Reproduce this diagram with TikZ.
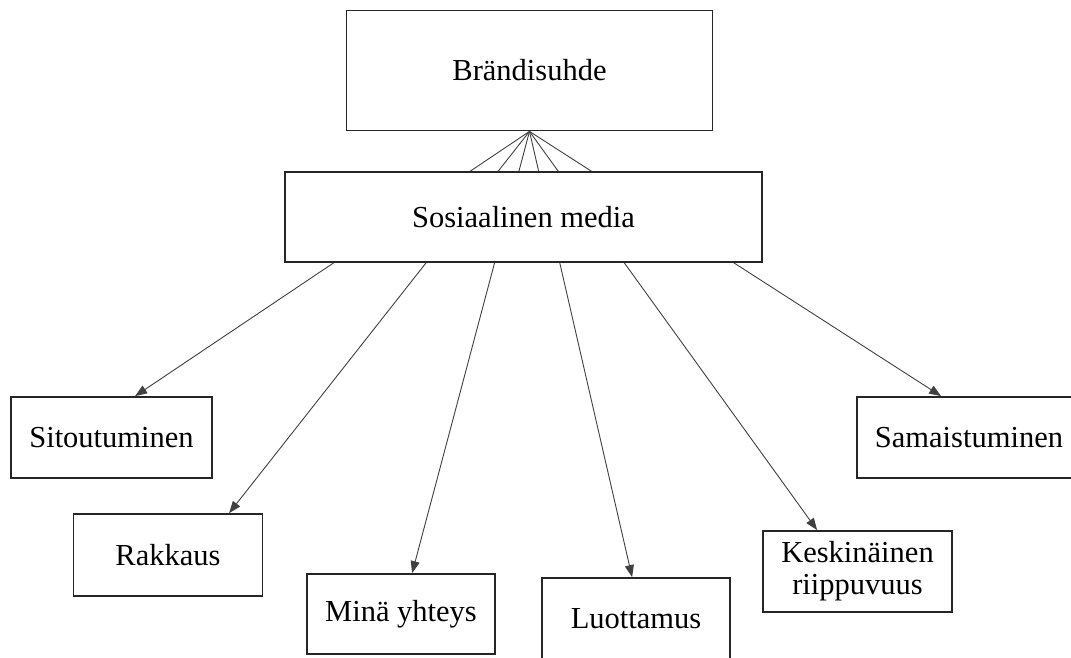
\documentclass[tikz,border=0pt]{standalone}
\usepackage{fontspec}
\setmainfont{Liberation Serif}
\usetikzlibrary{arrows.meta}
\pgfdeclarelayer{bg}
\pgfsetlayers{bg,main}
\begin{document}
\begin{tikzpicture}[x=1pt,y=-1pt,
  box/.style={draw=black!85, line width=1.8pt, inner sep=0pt, align=center,
    font=\fontsize{30.5}{32}\selectfont},
  link/.style={draw=black!75, line width=0.9pt, -{Triangle[length=12pt,width=9pt]}}]
\useasboundingbox (0,0) rectangle (1071,657);
\clip (0,0) rectangle (1071,657);

% top level concepts
\node[box, minimum width=366pt, minimum height=120pt] (brand) at (529.5,70.5) {Brändisuhde};
\node[box, fill=white, minimum width=477pt, minimum height=90pt] (soc) at (523.5,217) {Sosiaalinen media};

% dimensions of the relationship
\node[box, minimum width=201pt, minimum height=81pt] (sit) at (111.5,437.5) {Sitoutuminen};
\node[box, minimum width=189pt, minimum height=82pt] (rak) at (168,555) {Rakkaus};
\node[box, minimum width=188pt, minimum height=80pt] (mina) at (401,614) {Minä yhteys};
\node[box, minimum width=188pt, minimum height=81pt] (luo) at (636,618.5) {Luottamus};
\node[box, minimum width=189pt, minimum height=81pt] (kes) at (857.5,571.5) {Keskinäinen\\riippuvuus};
\node[box, minimum width=224pt, minimum height=81pt] (sam) at (969,437.5) {Samaistuminen};

% connectors fan out from the top box, passing behind the media box
\begin{pgfonlayer}{bg}
\draw[link] (brand.south) -- ([xshift=125pt]sit.north west);
\draw[link] (brand.south) -- ([xshift=156.5pt]rak.north west);
\draw[link] (brand.south) -- ([xshift=106pt]mina.north west);
\draw[link] (brand.south) -- ([xshift=91pt]luo.north west);
\draw[link] (brand.south) -- ([xshift=55pt]kes.north west);
\draw[link] (brand.south) -- ([xshift=85pt]sam.north west);
\end{pgfonlayer}
\end{tikzpicture}
\end{document}
